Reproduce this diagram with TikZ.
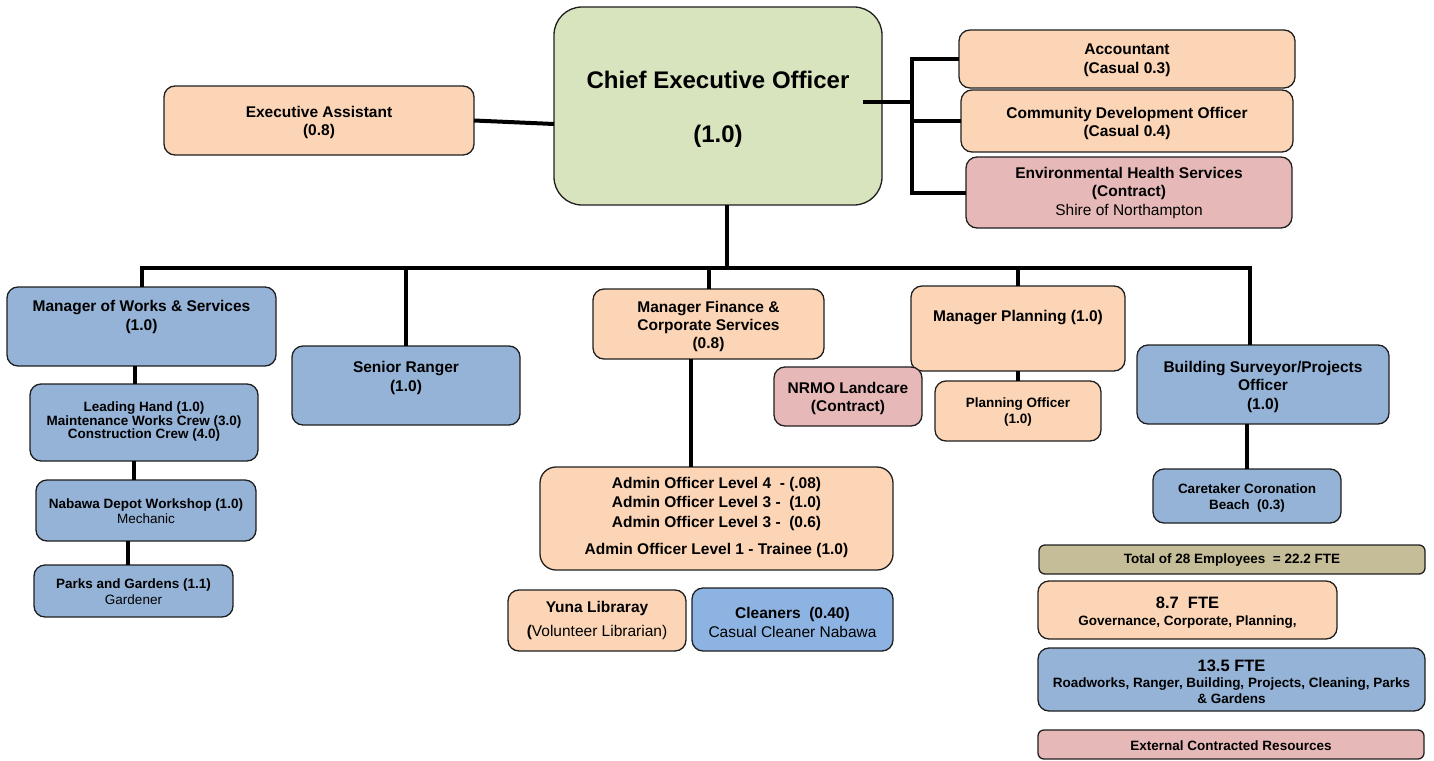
\documentclass[tikz,border=0pt]{standalone}
\usepackage{fontspec}
\setmainfont{Liberation Sans}
\definecolor{orb}{HTML}{FBD5B5}
\definecolor{blb}{HTML}{95B3D7}
\definecolor{blc}{HTML}{8DB3E2}
\definecolor{grb}{HTML}{D7E4BD}
\definecolor{pkb}{HTML}{E6B9B8}
\definecolor{khb}{HTML}{C4BD97}
\newcommand\ftbig[1]{\fontsize{15.5}{#1}\selectfont\bfseries}
\newcommand\ftsml[1]{\fontsize{13.5}{#1}\selectfont\bfseries}
\begin{document}
\begin{tikzpicture}[x=1pt,y=-1pt,
  bx/.style={draw=black!88,line width=1.3pt,rounded corners=11pt,inner sep=0pt,outer sep=0pt},
  tx/.style={align=center,inner sep=0pt,text=black},
  con/.style={line width=4pt,black}]
\useasboundingbox (0,0) rectangle (1434,760);
% boxes
\node[bx,fill=grb,minimum width=328pt,minimum height=198pt,rounded corners=28pt] (ceo) at (718,106) {};
\node[bx,fill=orb,minimum width=310pt,minimum height=69pt] (ea) at (319,120.5) {};
\node[bx,fill=orb,minimum width=336pt,minimum height=58pt] (acc) at (1127,59) {};
\node[bx,fill=orb,minimum width=332pt,minimum height=62pt] (cdo) at (1127,121) {};
\node[bx,fill=pkb,minimum width=326pt,minimum height=71pt] (ehs) at (1129,192.5) {};
\node[bx,fill=blb,minimum width=269pt,minimum height=79pt] (mws) at (141.5,326.5) {};
\node[bx,fill=blb,minimum width=228pt,minimum height=79pt] (sr) at (406,385.5) {};
\node[bx,fill=orb,minimum width=231pt,minimum height=70pt] (mfcs) at (708.5,324) {};
\node[bx,fill=orb,minimum width=214pt,minimum height=85pt] (mp) at (1018,328.5) {};
\node[bx,fill=blb,minimum width=252pt,minimum height=79pt] (bs) at (1263,384.5) {};
\node[bx,fill=pkb,minimum width=148pt,minimum height=59pt] (nrmo) at (848,396.5) {};
\node[bx,fill=orb,minimum width=166pt,minimum height=60pt] (po) at (1018,411) {};
\node[bx,fill=blb,minimum width=228pt,minimum height=77pt] (lh) at (144,422.5) {};
\node[bx,fill=blb,minimum width=220pt,minimum height=61pt] (nab) at (146,510.5) {};
\node[bx,fill=blb,minimum width=199pt,minimum height=52pt] (parks) at (133.5,591) {};
\node[bx,fill=orb,minimum width=353pt,minimum height=103pt,rounded corners=16pt] (admin) at (716.5,518.5) {};
\node[bx,fill=orb,minimum width=178pt,minimum height=61pt] (yuna) at (597,620.5) {};
\node[bx,fill=blc,minimum width=201pt,minimum height=63pt] (clean) at (792.5,619.5) {};
\node[bx,fill=blb,minimum width=188pt,minimum height=54pt] (care) at (1247,496) {};
\node[bx,fill=khb,minimum width=386pt,minimum height=29pt,rounded corners=6pt] (total) at (1232,559.5) {};
\node[bx,fill=orb,minimum width=299pt,minimum height=58pt] (fte87) at (1187.5,610) {};
\node[bx,fill=blb,minimum width=387pt,minimum height=63pt] (fte135) at (1231.5,679.5) {};
\node[bx,fill=pkb,minimum width=386pt,minimum height=29pt,rounded corners=6pt] (ext) at (1231,744.5) {};
% texts
\node[tx,font=\fontsize{24}{54}\selectfont\bfseries] (ceo-t) at (718,109) {Chief Executive Officer\\(1.0)};
\node[tx,font=\ftbig{18}] (ea-t) at (319,122) {Executive Assistant\\(0.8)};
\node[tx,font=\ftbig{19}] (acc-t) at (1127,60.5) {Accountant\\(Casual 0.3)};
\node[tx,font=\ftbig{18}] (cdo-t) at (1127,123) {Community Development Officer\\(Casual 0.4)};
\node[tx,font=\ftbig{18.5}] (ehs-t) at (1129,192.5) {Environmental Health Services\\(Contract)\\\mdseries Shire of Northampton};
\node[tx,font=\ftbig{19}] (mws-t) at (141.5,316.5) {Manager of Works \& Services\\(1.0)};
\node[tx,font=\ftbig{19}] (sr-t) at (406,377.5) {Senior Ranger\\(1.0)};
\node[tx,font=\ftbig{18}] (mfcs-t) at (708.5,326) {Manager Finance \&\\Corporate Services\\(0.8)};
\node[tx,font=\ftbig{18}] (mp-t) at (1018,318) {Manager Planning (1.0)};
\node[tx,font=\ftbig{18.5}] (bs-t) at (1263,386.5) {Building Surveyor/Projects\\Officer\\(1.0)};
\node[tx,font=\ftbig{18}] (nrmo-t) at (848,398) {NRMO Landcare\\(Contract)};
\node[tx,font=\ftsml{16}] (po-t) at (1018,412) {Planning Officer\\(1.0)};
\node[tx,font=\ftsml{12.5}] (lh-t) at (144,421.5) {Leading Hand (1.0)\\Maintenance Works Crew (3.0)\\Construction Crew (4.0)};
\node[tx,font=\ftsml{15}] (nab-t) at (146,511.5) {Nabawa Depot Workshop (1.0)\\\mdseries Mechanic};
\node[tx,font=\ftsml{16}] (parks-t) at (133.5,592) {Parks and Gardens (1.1)\\\mdseries Gardener};
\node[tx,font=\ftbig{19.5}] (admin-t) at (716.5,517) {Admin Officer Level 4~ - (.08)\\Admin Officer Level 3 -~ (1.0)\\Admin Officer Level 3 -~ (0.6)\\[7.5pt]Admin Officer Level 1 - Trainee (1.0)};
\node[tx,font=\ftbig{24}] (yuna-t) at (597,620) {Yuna Libraray\\\mdseries{\bfseries(}Volunteer Librarian)};
\node[tx,font=\ftbig{19}] (clean-t) at (792.5,622.5) {Cleaners~ (0.40)\\\mdseries Casual Cleaner Nabawa};
\node[tx,font=\ftsml{16}] (care-t) at (1247,498) {Caretaker Coronation\\Beach~ (0.3)};
\node[tx,font=\ftsml{16}] (total-t) at (1232,560) {Total of 28 Employees~ = 22.2 FTE};
\node[tx,font=\ftsml{17}] (fte87-t) at (1187.5,612.5) {{\fontsize{16.5}{17}\selectfont 8.7~ FTE}\\Governance, Corporate, Planning,};
\node[tx,font=\ftsml{16}] (fte135-t) at (1231.5,682) {{\fontsize{16.5}{16}\selectfont 13.5 FTE}\\Roadworks, Ranger, Building, Projects, Cleaning, Parks\\\& Gardens};
\node[tx,font=\ftsml{16}] (ext-t) at (1231,745.5) {External Contracted Resources};
% connectors
\coordinate (bar) at (727,268);
\coordinate (rj) at (912,102);
\draw[con] (ea.east) -- ([yshift=-18pt]ceo.west);
\draw[con] ([shift={(-19pt,4pt)}]ceo.east) -- (rj);
\draw[con] (acc.west) -| (rj |- ehs.west) -- (ehs.west);
\draw[con] (cdo.west) -- (cdo.west -| rj);
\draw[con] ([xshift=9pt]ceo.south) -- (bar);
\draw[con] (mws.north) -- (mws.north |- bar) -- ([xshift=-13pt]bs.north |- bar) -- ([xshift=-13pt]bs.north);
\draw[con] (sr.north) -- (sr.north |- bar);
\draw[con] (mfcs.north) -- (mfcs.north |- bar);
\draw[con] (mp.north) -- (mp.north |- bar);
\draw[con] ([xshift=-18pt]mfcs.south) -- ([xshift=-18pt]mfcs.south |- admin.north);
\draw[con] (po.north) -- (po.north |- mp.south);
\draw[con] (care.north) -- (care.north |- bs.south);
\draw[con] ([xshift=-9pt]lh.north) -- ([xshift=-9pt]lh.north |- mws.south);
\draw[con] ([xshift=-12pt]nab.north) -- ([xshift=-12pt]nab.north |- lh.south);
\draw[con] ([xshift=-6pt]parks.north) -- ([xshift=-6pt]parks.north |- nab.south);
\end{tikzpicture}
\end{document}
